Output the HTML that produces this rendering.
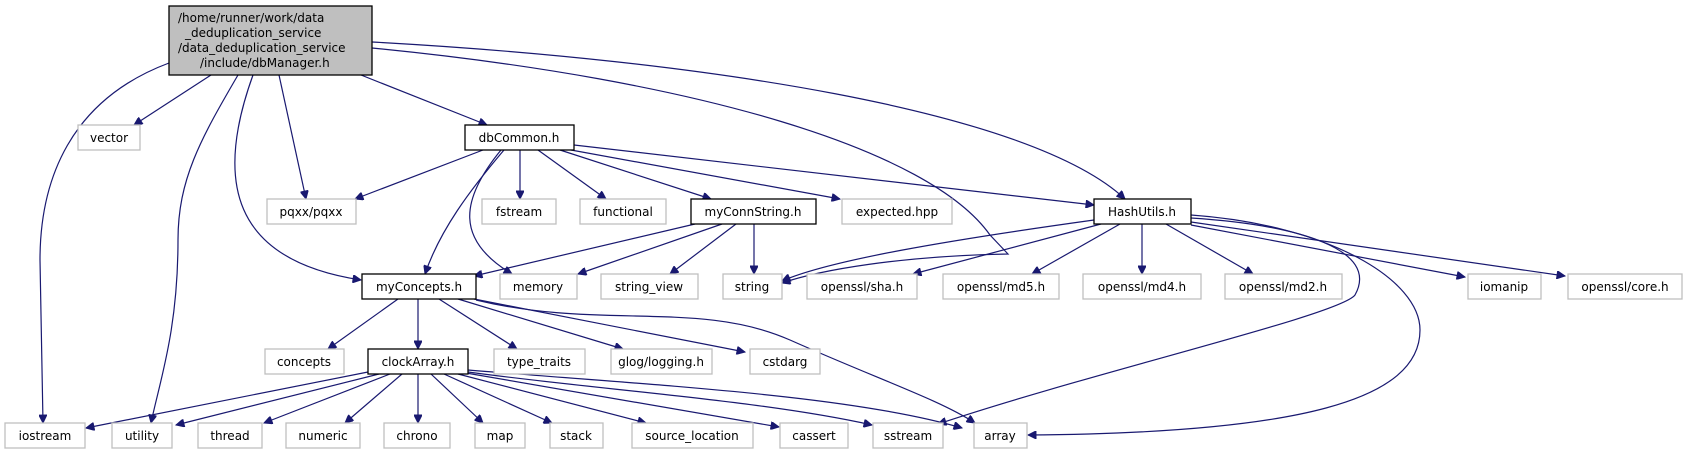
<!DOCTYPE html>
<html><head><meta charset="utf-8"><style>
html,body{margin:0;padding:0;background:#fff;}
svg{display:block;}
text{font-family:"DejaVu Sans","Liberation Sans",sans-serif;font-size:12px;fill:#000;}
.g{fill:#fff;stroke:#bfbfbf;stroke-width:1.3;}
.b{fill:#fff;stroke:#000;stroke-width:1.3;}
path{fill:none;stroke:#191970;stroke-width:1.2;}
</style></head><body>
<svg width="1689" height="455" viewBox="0 0 1689 455" xmlns="http://www.w3.org/2000/svg">
<defs><marker id="a" viewBox="0 0 10 10" refX="10" refY="5" markerWidth="10" markerHeight="8" markerUnits="userSpaceOnUse" orient="auto"><path d="M0,0 L10,5 L0,10 z" style="fill:#191970;stroke:#191970"/></marker></defs>
<g marker-end="url(#a)">
<path d="M169,63 C70,100 40,180 40,260 L43,423"/>
<path d="M211,75 L134,125"/>
<path d="M238,75 C200,140 178,180 178,240 C178,330 160,380 151,423"/>
<path d="M253,75 C215,180 230,260 361,280"/>
<path d="M279,75 L306,199"/>
<path d="M361,75 L487,125"/>
<path d="M372,48 C700,80 930,150 990,235 L1008,254 C900,256 820,270 782,283"/>
<path d="M372,42 C700,60 1030,110 1125,199"/>
<path d="M483,150 L355,199"/>
<path d="M504,150 C470,190 440,230 425,274"/>
<path d="M501,150 C460,200 455,240 512,274"/>
<path d="M520,150 L520,199"/>
<path d="M538,150 L606,199"/>
<path d="M560,150 L711,199"/>
<path d="M571,150 L840,199"/>
<path d="M574,145 L1094,205"/>
<path d="M695,224 L474,276"/>
<path d="M722,224 L578,274"/>
<path d="M736,224 L670,274"/>
<path d="M754,224 L754,274"/>
<path d="M1094,220 C950,240 830,260 782,281"/>
<path d="M1101,224 L913,274"/>
<path d="M1120,224 L1032,274"/>
<path d="M1142,224 L1142,274"/>
<path d="M1166,224 L1253,274"/>
<path d="M1191,225 L1465,277"/>
<path d="M1191,222 L1565,276"/>
<path d="M1191,218 C1300,225 1380,250 1355,295 C1340,315 1100,370 938,424"/>
<path d="M1191,215 C1330,225 1420,280 1420,330 C1420,400 1300,433 1028,435"/>
<path d="M398,299 L328,349"/>
<path d="M418,299 L418,349"/>
<path d="M439,299 L517,349"/>
<path d="M458,299 L623,349"/>
<path d="M474,299 L745,352"/>
<path d="M476,300 C600,330 700,300 790,340 C880,380 940,400 975,423"/>
<path d="M368,372 L86,428"/>
<path d="M379,374 L176,425"/>
<path d="M390,374 L264,423"/>
<path d="M402,374 L345,423"/>
<path d="M418,374 L418,423"/>
<path d="M431,374 L483,423"/>
<path d="M444,374 L552,423"/>
<path d="M458,374 L646,423"/>
<path d="M466,373 L779,427"/>
<path d="M468,372 C600,390 760,400 872,425"/>
<path d="M468,370 C650,385 850,395 962,428"/>
</g>
<rect x="169" y="6" width="203" height="69" style="fill:#bfbfbf;stroke:#000;stroke-width:1.3"/>
<text x="178" y="22">/home/runner/work/data</text>
<text x="185" y="37">_deduplication_service</text>
<text x="178" y="52">/data_deduplication_service</text>
<text x="200" y="67">/include/dbManager.h</text>
<rect class="g" x="78" y="125" width="62" height="25"/><text x="109" y="142" text-anchor="middle">vector</text>
<rect class="b" x="465" y="125" width="109" height="25"/><text x="519" y="142" text-anchor="middle">dbCommon.h</text>
<rect class="g" x="267" y="199" width="89" height="25"/><text x="311" y="216" text-anchor="middle">pqxx/pqxx</text>
<rect class="g" x="482" y="199" width="74" height="25"/><text x="519" y="216" text-anchor="middle">fstream</text>
<rect class="g" x="580" y="199" width="86" height="25"/><text x="623" y="216" text-anchor="middle">functional</text>
<rect class="b" x="691" y="199" width="125" height="25"/><text x="753" y="216" text-anchor="middle">myConnString.h</text>
<rect class="g" x="842" y="199" width="110" height="25"/><text x="897" y="216" text-anchor="middle">expected.hpp</text>
<rect class="b" x="1094" y="199" width="97" height="25"/><text x="1142" y="216" text-anchor="middle">HashUtils.h</text>
<rect class="b" x="362" y="274" width="114" height="25"/><text x="419" y="291" text-anchor="middle">myConcepts.h</text>
<rect class="g" x="500" y="274" width="77" height="25"/><text x="538" y="291" text-anchor="middle">memory</text>
<rect class="g" x="601" y="274" width="97" height="25"/><text x="649" y="291" text-anchor="middle">string_view</text>
<rect class="g" x="723" y="274" width="59" height="25"/><text x="752" y="291" text-anchor="middle">string</text>
<rect class="g" x="807" y="274" width="110" height="25"/><text x="862" y="291" text-anchor="middle">openssl/sha.h</text>
<rect class="g" x="943" y="274" width="116" height="25"/><text x="1001" y="291" text-anchor="middle">openssl/md5.h</text>
<rect class="g" x="1083" y="274" width="118" height="25"/><text x="1142" y="291" text-anchor="middle">openssl/md4.h</text>
<rect class="g" x="1225" y="274" width="117" height="25"/><text x="1283" y="291" text-anchor="middle">openssl/md2.h</text>
<rect class="g" x="1468" y="274" width="73" height="25"/><text x="1504" y="291" text-anchor="middle">iomanip</text>
<rect class="g" x="1568" y="274" width="114" height="25"/><text x="1625" y="291" text-anchor="middle">openssl/core.h</text>
<rect class="g" x="265" y="349" width="79" height="25"/><text x="304" y="366" text-anchor="middle">concepts</text>
<rect class="b" x="368" y="349" width="100" height="25"/><text x="418" y="366" text-anchor="middle">clockArray.h</text>
<rect class="g" x="494" y="349" width="91" height="25"/><text x="539" y="366" text-anchor="middle">type_traits</text>
<rect class="g" x="611" y="349" width="101" height="25"/><text x="661" y="366" text-anchor="middle">glog/logging.h</text>
<rect class="g" x="750" y="349" width="70" height="25"/><text x="785" y="366" text-anchor="middle">cstdarg</text>
<rect class="g" x="5" y="423" width="80" height="25"/><text x="45" y="440" text-anchor="middle">iostream</text>
<rect class="g" x="112" y="423" width="60" height="25"/><text x="142" y="440" text-anchor="middle">utility</text>
<rect class="g" x="198" y="423" width="64" height="25"/><text x="230" y="440" text-anchor="middle">thread</text>
<rect class="g" x="286" y="423" width="74" height="25"/><text x="323" y="440" text-anchor="middle">numeric</text>
<rect class="g" x="384" y="423" width="66" height="25"/><text x="417" y="440" text-anchor="middle">chrono</text>
<rect class="g" x="475" y="423" width="50" height="25"/><text x="500" y="440" text-anchor="middle">map</text>
<rect class="g" x="550" y="423" width="53" height="25"/><text x="576" y="440" text-anchor="middle">stack</text>
<rect class="g" x="632" y="423" width="121" height="25"/><text x="692" y="440" text-anchor="middle">source_location</text>
<rect class="g" x="780" y="423" width="68" height="25"/><text x="814" y="440" text-anchor="middle">cassert</text>
<rect class="g" x="873" y="423" width="70" height="25"/><text x="908" y="440" text-anchor="middle">sstream</text>
<rect class="g" x="974" y="423" width="53" height="25"/><text x="1000" y="440" text-anchor="middle">array</text>
</svg>
</body></html>
